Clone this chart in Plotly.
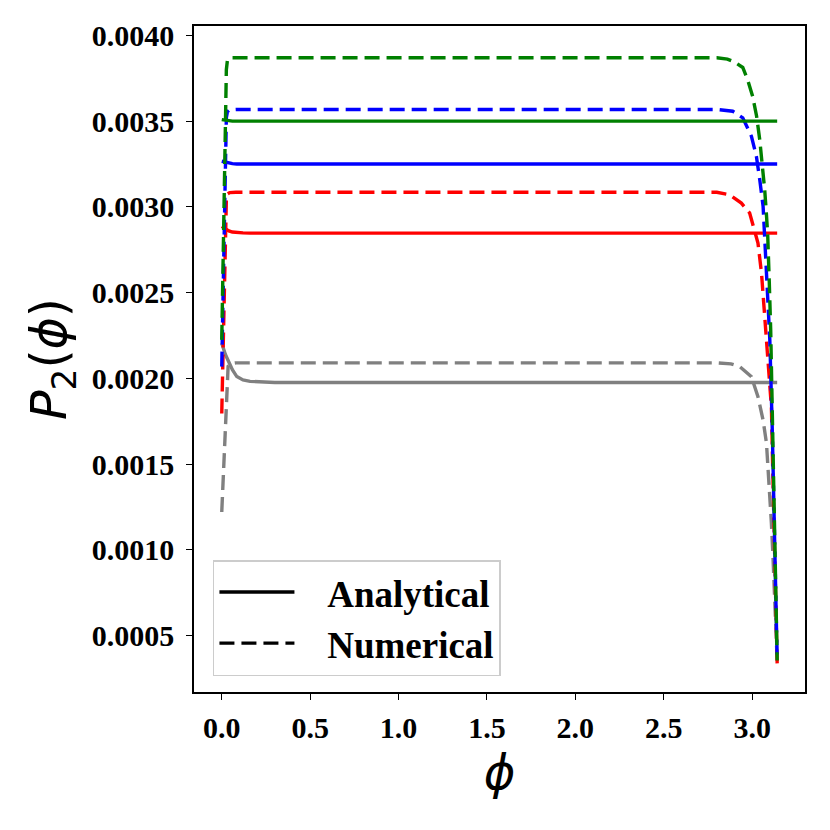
import plotly.graph_objects as go
import math

PI = math.pi

# ---------------- data ----------------
phi_ana = [0, 0.02, 0.04, 0.06, 0.085, 0.12, 0.16, 0.22, 0.3, PI]
ana_grey = [0.002205, 0.00214, 0.002095, 0.00205, 0.00201, 0.00199, 0.001982, 0.001977, 0.001975, 0.001975]
ana_red = [0.002886, 0.00287, 0.00286, 0.002853, 0.00285, 0.002848, 0.002847, 0.002847, 0.002847, 0.002847]
ana_blue = [0.003266, 0.00326, 0.003255, 0.003252, 0.00325, 0.00325, 0.00325, 0.00325, 0.00325, 0.00325]
ana_green = [0.003509, 0.003505, 0.003502, 0.0035, 0.0035, 0.0035, 0.0035, 0.0035, 0.0035, 0.0035]

phi_num_grey = [0, 0.01, 0.02, 0.03, 0.036, 0.045, 0.08, 2.80, 2.880, 2.930, 2.996, 3.033, 3.062,
                3.081, 3.090, 3.100, 3.109, 3.118, 3.128, 3.136, PI]
num_grey = [0.00122, 0.00148, 0.00174, 0.00200, 0.00207, 0.002085, 0.00209, 0.00209, 0.002084,
            0.002068, 0.002009, 0.001892, 0.001756, 0.001622, 0.001483, 0.001347, 0.001154,
            0.000958, 0.000705, 0.0005, 0.00035]

phi_num_red = [0, 0.01, 0.02, 0.026, 0.032, 0.045, 0.08, 2.80, 2.873, 2.939, 2.986, 3.015,
               3.033, 3.053, 3.071, 3.090, 3.109, 3.116, 3.126, 3.137, PI]
num_red = [0.001795, 0.00235, 0.00290, 0.00304, 0.003075, 0.003083, 0.003085, 0.003085, 0.003071,
           0.003022, 0.002964, 0.002866, 0.002789, 0.002613, 0.002360, 0.002126, 0.001832,
           0.00149, 0.001055, 0.000372, 0.000337]

phi_num_blue = [0, 0.01, 0.02, 0.026, 0.032, 0.045, 0.08, 2.80, 2.890, 2.947, 2.996, 3.024,
                3.043, 3.062, 3.081, 3.100, 3.114, 3.125, 3.138, PI]
num_blue = [0.002068, 0.00272, 0.00335, 0.00352, 0.003555, 0.003566, 0.003568, 0.003568, 0.003558,
            0.003519, 0.003412, 0.003295, 0.003159, 0.003003, 0.002615, 0.002224, 0.001698,
            0.001055, 0.000412, 0.00036]

phi_num_green = [0, 0.01, 0.02, 0.026, 0.032, 0.045, 0.08, 2.80, 2.86, 2.90, 2.947, 2.975, 3.003,
                 3.025, 3.043, 3.058, 3.071, 3.080, 3.088, 3.097, 3.105, 3.116, 3.128, 3.139, PI]
num_green = [0.002224, 0.00290, 0.00360, 0.00380, 0.003855, 0.00387, 0.00387, 0.00387, 0.003862,
             0.003845, 0.003813, 0.00374, 0.003644, 0.00353, 0.003392, 0.00325, 0.003100, 0.00297,
             0.002837, 0.00256, 0.002282, 0.001698, 0.001055, 0.000412, 0.000354]

y_ticks = [0.0005, 0.0010, 0.0015, 0.0020, 0.0025, 0.0030, 0.0035, 0.0040]
x_ticks = [0.0, 0.5, 1.0, 1.5, 2.0, 2.5, 3.0]

legend_labels = ["Analytical", "Numerical"]

# ---------------- figure ----------------
LW = 3.4
DASH = "15px,7px"
fig = go.Figure()

series = [
    ("gray", phi_ana, ana_grey, phi_num_grey, num_grey),
    ("red", phi_ana, ana_red, phi_num_red, num_red),
    ("blue", phi_ana, ana_blue, phi_num_blue, num_blue),
    ("green", phi_ana, ana_green, phi_num_green, num_green),
]
for color, xa, ya, xn, yn in series:
    fig.add_trace(go.Scatter(x=xa, y=ya, mode="lines", showlegend=False,
                             line=dict(color=color, width=LW)))
    fig.add_trace(go.Scatter(x=xn, y=yn, mode="lines", showlegend=False,
                             line=dict(color=color, width=LW, dash=DASH)))

NBSP = "\u00a0"
fig.add_trace(go.Scatter(x=[None], y=[None], mode="lines",
                         name=NBSP * 3 + "<b>" + legend_labels[0] + "</b>",
                         line=dict(color="black", width=LW)))
fig.add_trace(go.Scatter(x=[None], y=[None], mode="lines",
                         name=NBSP * 3 + "<b>" + legend_labels[1] + "</b>",
                         line=dict(color="black", width=LW, dash=DASH)))

tickfont = dict(family="Liberation Serif", size=30, color="black")

# page body has an ~8px default margin; compensate so the plot area sits where the reference has it
fig.update_layout(
    width=830, height=830,
    margin=dict(l=186, r=33, t=18, b=146),
    paper_bgcolor="white", plot_bgcolor="white",
    showlegend=True,
    legend=dict(x=0.031, y=0.024, xanchor="left", yanchor="bottom",
                bgcolor="white", bordercolor="#cccccc", borderwidth=1.5,
                font=dict(family="Liberation Serif", size=37, color="black"),
                itemwidth=75, tracegroupgap=4),
    font=dict(family="Liberation Serif", color="black"),
)

fig.update_xaxes(
    range=[-0.157, 3.299], tickmode="array", tickvals=x_ticks,
    ticktext=[f"<b>{v:.1f}</b>" for v in x_ticks],
    tickfont=tickfont, ticks="outside", ticklen=6, tickwidth=1.3, tickcolor="black",
    showline=True, linecolor="black", linewidth=1.5, mirror=True,
    showgrid=False, zeroline=False, ticklabelstandoff=2,
    title=dict(text="<i>ϕ</i>", font=dict(family="DejaVu Sans", size=48, color="black"),
               standoff=8),
)
fig.update_yaxes(
    range=[0.00017, 0.004055], tickmode="array", tickvals=y_ticks,
    ticktext=[f"<b>{v:.4f}</b>" for v in y_ticks],
    tickfont=tickfont, ticks="outside", ticklen=6, tickwidth=1.3, tickcolor="black",
    showline=True, linecolor="black", linewidth=1.5, mirror=True,
    showgrid=False, zeroline=False, ticklabelstandoff=6,
    title=dict(text="<i>P</i><sub>2</sub>(<i>ϕ</i>)",
               font=dict(family="DejaVu Sans", size=49, color="black"), standoff=10),
)

fig.write_html("out.html")
